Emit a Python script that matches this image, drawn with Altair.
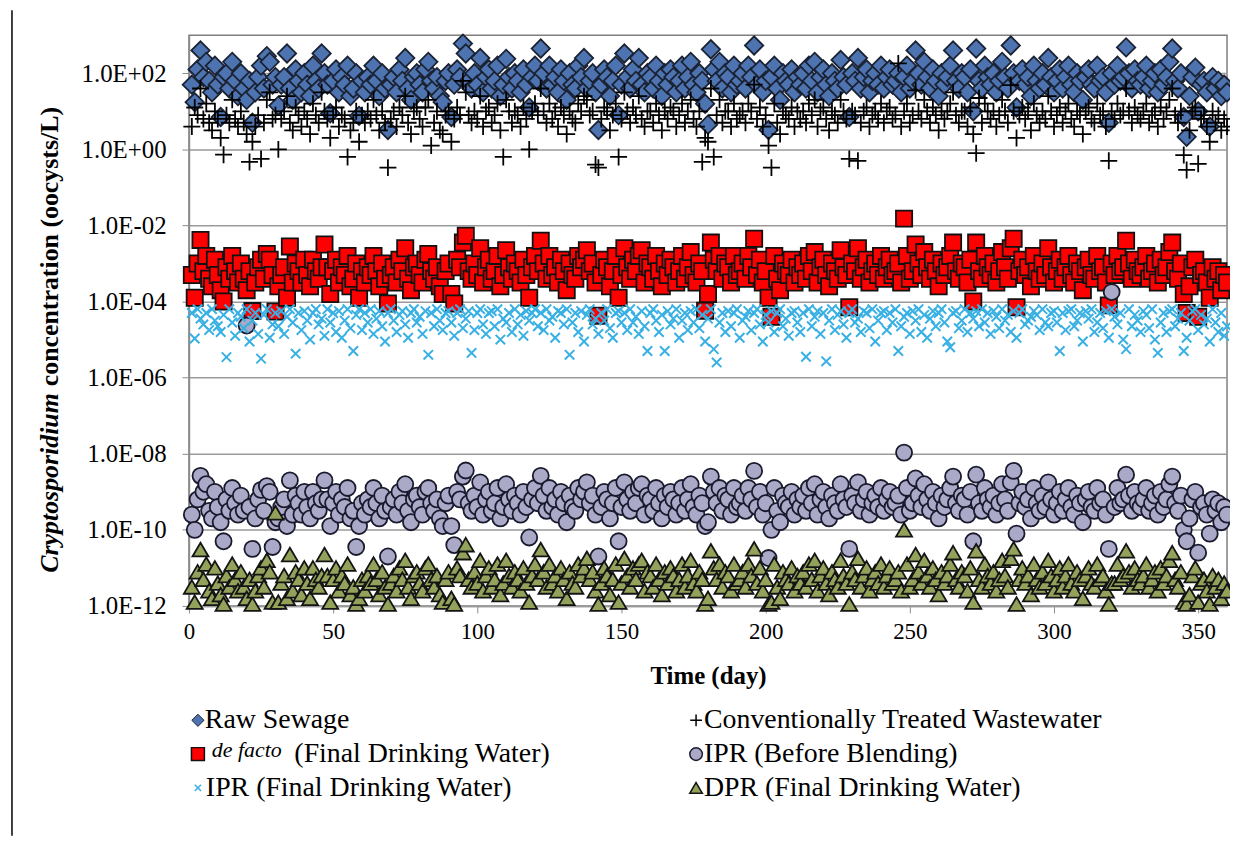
import altair as alt
import pandas as pd

# log10 concentrations (oocysts/L), one value per day starting at day 1
raw_sewage = [
    1.7, 1.24, 2.1, 2.6, 1.9, 2.3, 1.8, 1.5, 2.2, 1.7, 0.85, 1.9, 2.0, 1.6, 2.3, 1.8, 1.4, 2.0, 1.6, 1.3, 1.8, 0.7, 1.5, 1.9, 2.2, 1.6, 2.45, 2.3, 1.7, 1.9,
    1.15, 1.7, 1.9, 2.52, 1.6, 1.3, 2.1, 1.8, 1.5, 2.0, 1.7, 1.4, 2.2, 1.8, 1.6, 2.52, 2.0, 1.7, 0.95, 1.8, 2.1, 1.5, 1.9, 1.7, 2.2, 1.4, 1.6, 2.0, 0.88, 1.8,
    1.5, 1.9, 1.7, 2.2, 1.8, 1.4, 2.0, 1.6, 0.51, 1.7, 1.9, 1.5, 2.1, 1.8, 2.4, 1.6, 1.3, 1.9, 2.0, 1.7, 1.5, 2.1, 2.3, 1.8, 1.6, 1.9, 1.4, 1.24, 1.8, 2.0,
    0.85, 1.7, 2.1, 1.9, 2.78, 2.52, 1.8, 1.6, 2.0, 1.7, 2.4, 1.5, 1.9, 2.1, 1.6, 1.8, 2.2, 1.4, 1.7, 2.38, 1.9, 1.6, 2.0, 1.8, 1.5, 2.1, 1.7, 1.1, 1.9, 2.2,
    1.8, 2.65, 2.0, 1.6, 2.2, 1.7, 1.9, 1.5, 2.1, 1.8, 1.3, 2.0, 1.7, 1.6, 2.2, 1.9, 2.4, 1.6, 1.8, 2.0, 1.5, 0.51, 1.7, 2.1, 1.9, 1.4, 1.8, 2.2, 0.9, 1.7,
    2.52, 1.9, 1.6, 2.1, 1.8, 2.4, 1.7, 1.5, 2.0, 1.9, 1.6, 2.2, 1.8, 1.4, 2.0, 1.7, 2.1, 1.9, 1.5, 1.8, 2.2, 1.6, 1.9, 2.3, 1.7, 1.5, 2.0, 1.8, 1.2, 0.65,
    2.63, 2.1, 1.8, 2.3, 1.6, 2.0, 1.9, 1.5, 2.2, 1.7, 1.8, 2.0, 1.6, 2.2, 1.9, 2.73, 1.7, 2.1, 1.5, 1.8, 0.51, 1.9, 2.2, 1.6, 1.3, 2.0, 1.8, 1.7, 2.1, 1.5,
    1.9, 1.7, 2.0, 1.6, 2.2, 1.8, 2.3, 1.5, 1.9, 2.1, 1.7, 1.4, 2.0, 1.8, 1.6, 2.35, 1.9, 1.7, 0.85, 2.0, 1.8, 2.4, 1.6, 1.9, 2.1, 1.5, 1.8, 2.0, 1.7, 2.2,
    1.6, 1.9, 2.1, 1.7, 1.8, 2.0, 1.5, 1.9, 2.2, 1.6, 1.8, 2.6, 2.0, 1.7, 2.3, 1.9, 1.6, 2.1, 1.8, 1.4, 2.0, 1.7, 1.9, 2.2, 2.6, 1.8, 1.6, 2.0, 1.9, 1.5,
    2.1, 1.0, 2.65, 1.8, 1.6, 2.2, 1.9, 1.7, 2.0, 1.5, 1.8, 2.3, 1.9, 1.6, 2.73, 2.0, 1.1, 1.8, 2.1, 1.7, 1.9, 1.4, 2.2, 1.8, 1.6, 2.0, 1.7, 2.4, 1.9, 1.5,
    1.8, 2.1, 1.6, 1.9, 2.2, 1.7, 1.5, 2.0, 1.8, 1.3, 1.9, 2.1, 1.7, 1.6, 2.2, 1.8, 1.9, 1.5, 0.7, 2.0, 1.7, 2.2, 1.8, 1.9, 2.68, 2.0, 1.6, 2.1, 1.8, 1.7,
    1.9, 2.2, 1.6, 1.8, 2.0, 1.5, 2.1, 1.7, 1.9, 2.3, 2.65, 1.8, 1.6, 2.0, 0.85, 0.33, 1.4, 1.9, 2.15, 1.0, 1.7, 1.8, 1.5, 0.6, 1.9, 1.6, 1.8, 1.4, 1.7, 1.5,
]

treated_wastewater = [
    0.6, 1.1, 0.9, 1.6, 0.8, 1.2, 0.7, 0.5, 1.0, 0.8, 0.3, -0.14, 0.9, 0.7, 1.3, 0.8, 0.6, 1.0, 0.7, 0.4, -0.33, 0.2, 0.6, 0.9, -0.25, 0.7, 1.3, 1.5, 0.8, 0.9,
    0.0, 0.8, 1.0, 1.4, 0.7, 0.5, 1.1, 0.9, 0.6, 1.0, 0.8, 0.4, 1.2, 0.9, 0.7, 1.5, 1.0, 0.8, 0.3, 0.9, 1.1, 0.6, 0.9, 0.8, -0.2, 0.5, 0.7, 1.0, 0.2, 0.9,
    0.7, 1.0, 0.8, 1.3, 0.9, 0.5, 1.0, 0.7, -0.48, 0.8, 1.0, 0.6, 1.1, 0.9, 1.4, 0.7, 0.4, 1.0, 1.1, 0.8, 0.6, 1.1, 1.3, 0.1, 0.7, 1.0, 0.5, 0.4, 0.9, 1.0,
    0.2, 0.8, 1.1, 0.9, 1.8, 1.5, 0.9, 0.7, 1.0, 0.8, 1.4, 0.6, 1.0, 1.1, 0.7, 0.9, 1.2, 0.5, -0.2, 1.3, 1.0, 0.7, 1.0, 0.9, 0.6, 1.1, 0.8, 0.0, 1.0, 1.2,
    0.9, 1.6, 1.0, 0.7, 1.2, 0.8, 1.0, 0.6, 1.1, 0.9, 0.4, 1.0, 0.8, 0.7, 1.2, 1.0, 1.4, 1.3, 0.9, 1.0, -0.4, -0.48, 0.8, 1.1, 1.0, 0.5, 0.9, 1.2, -0.2, 0.8,
    1.5, 1.0, 0.7, 1.1, 0.9, 1.4, 0.8, 0.6, 1.0, 1.0, 0.7, 1.2, 0.9, 0.5, 1.0, 0.8, 1.1, 1.0, 0.6, 0.9, 1.2, 0.7, 1.0, 1.3, 0.8, 0.6, 1.0, -0.33, 0.3, 0.2,
    1.6, -0.2, 0.9, 1.3, 0.7, 1.0, 1.0, 0.6, 1.2, 0.8, 0.9, 1.0, 0.7, 1.2, 1.0, 1.7, 0.8, 1.1, 0.6, 0.9, 0.1, -0.48, 1.2, 0.7, 0.4, 1.0, 0.9, 0.8, 1.1, 0.6,
    1.0, 0.8, 1.0, 0.7, 1.2, 0.9, 1.3, 0.6, 1.0, 1.1, 0.8, 0.5, 1.0, 0.9, 0.7, 1.3, 1.0, 0.8, -0.25, 1.0, 0.9, -0.3, 0.7, 1.0, 1.1, 0.6, 0.9, 1.0, 0.8, 1.2,
    0.7, 1.0, 1.1, 0.8, 0.9, 2.26, 0.6, 1.0, 1.2, 0.7, 0.9, 1.55, 1.0, 0.8, 1.3, 1.0, 0.7, 1.1, 0.9, 0.5, 1.0, 0.8, 1.0, 1.2, 1.5, 0.9, 0.7, 1.0, 1.0, 0.6,
    1.1, 0.4, -0.1, 1.35, 0.7, 1.2, 1.0, 0.8, 1.0, 0.6, 0.9, 1.3, 1.0, 0.7, 1.69, 1.0, 0.3, 0.9, 1.1, 0.8, 1.0, 0.5, 1.2, 0.9, 0.7, 1.0, 0.8, 1.4, 1.0, 0.6,
    0.9, 1.1, 0.7, 1.0, 1.2, 0.8, 0.6, 1.0, 0.9, 0.4, 1.0, 1.1, 0.8, 0.7, 1.2, 0.9, 1.0, 0.6, -0.3, 1.0, 0.8, 1.2, 0.9, 1.0, 1.6, 1.0, 0.7, 1.1, 0.9, 0.8,
    1.0, 1.2, 0.7, 0.9, 1.0, 0.6, 1.1, 0.8, 1.0, 1.3, 1.6, 0.9, 0.7, 1.0, -0.15, -0.54, 0.5, 1.0, 1.1, -0.38, 0.8, 0.9, 0.6, 0.2, 1.0, 0.7, 0.9, 0.5, 0.8, 0.6,
]

de_facto_final = [
    -3.3, -3.9, -3.0, -2.38, -3.2, -2.8, -3.4, -3.6, -2.9, -3.3, -3.7, -4.0, -3.1, -3.4, -2.8, -3.2, -3.5, -3.0, -3.4, -3.7, -3.2, -4.25, -3.5, -3.1, -2.9, -3.4, -2.75, -2.9, -3.3, -4.26,
    -3.6, -3.3, -3.1, -3.9, -2.55, -3.5, -3.0, -3.2, -3.5, -2.9, -3.3, -3.6, -2.9, -3.2, -3.4, -3.1, -2.5, -3.1, -3.8, -3.2, -2.9, -3.5, -3.1, -3.3, -2.8, -3.6, -3.4, -3.0, -3.9, -3.2,
    -3.5, -3.1, -3.3, -2.8, -3.2, -3.6, -3.0, -3.4, -4.05, -3.3, -3.1, -3.5, -2.9, -3.2, -2.6, -3.4, -3.7, -3.1, -3.0, -3.3, -3.5, -2.9, -2.75, -3.2, -3.4, -3.1, -3.6, -3.8, -3.2, -3.0,
    -3.8, -4.05, -2.9, -3.1, -2.45, -2.27, -3.2, -3.4, -3.0, -3.3, -2.6, -3.5, -3.1, -2.9, -3.4, -3.2, -2.8, -3.6, -3.3, -2.65, -3.1, -3.4, -3.0, -3.2, -3.5, -2.9, -3.3, -3.9, -3.1, -2.8,
    -3.2, -2.4, -3.0, -3.4, -2.8, -3.3, -3.1, -3.5, -2.9, -3.2, -3.7, -3.0, -3.3, -3.4, -2.8, -3.1, -2.9, -2.65, -3.2, -3.0, -3.5, -4.37, -3.3, -2.9, -3.1, -3.6, -3.2, -2.8, -3.9, -3.3,
    -2.6, -3.1, -3.4, -2.9, -3.2, -2.8, -2.65, -3.5, -3.0, -3.1, -3.4, -2.8, -3.2, -3.6, -3.0, -3.3, -2.9, -3.1, -3.5, -3.2, -2.8, -3.4, -3.1, -2.7, -3.3, -3.5, -3.0, -3.2, -4.24, -3.8,
    -2.45, -2.9, -3.2, -2.8, -3.4, -3.0, -3.1, -3.5, -2.8, -3.3, -3.2, -3.0, -3.4, -2.8, -3.1, -2.35, -3.3, -2.9, -3.5, -3.2, -3.9, -4.4, -2.8, -3.4, -3.7, -3.0, -3.2, -3.3, -2.9, -3.5,
    -3.1, -3.3, -3.0, -3.4, -2.8, -3.2, -2.7, -3.5, -3.1, -2.9, -3.3, -3.6, -3.0, -3.2, -3.4, -2.65, -3.1, -3.3, -4.15, -3.0, -3.2, -2.6, -3.4, -3.1, -2.9, -3.5, -3.2, -3.0, -3.3, -2.8,
    -3.4, -3.1, -2.9, -3.3, -3.2, -3.0, -3.5, -1.82, -2.8, -3.4, -3.2, -2.5, -3.0, -3.3, -2.7, -3.1, -3.4, -2.9, -3.2, -3.6, -3.0, -3.3, -3.1, -2.8, -2.45, -3.2, -3.4, -3.0, -3.1, -3.5,
    -2.9, -4.0, -2.45, -3.2, -3.4, -2.8, -3.1, -3.3, -3.0, -3.5, -3.2, -2.7, -3.1, -3.4, -2.6, -2.35, -4.15, -3.2, -2.9, -3.3, -3.1, -3.6, -2.8, -3.2, -3.4, -3.0, -3.3, -2.6, -3.1, -3.5,
    -3.2, -2.9, -3.4, -3.1, -2.8, -3.3, -3.5, -3.0, -3.2, -3.7, -3.1, -2.9, -3.3, -3.4, -2.8, -3.2, -3.1, -3.5, -4.1, -3.0, -3.3, -2.8, -3.2, -3.1, -2.4, -3.0, -3.4, -2.9, -3.2, -3.3,
    -3.1, -2.8, -3.4, -3.2, -3.0, -3.5, -2.9, -3.3, -3.1, -2.7, -2.45, -3.2, -3.4, -3.0, -3.8, -4.3, -3.6, -3.1, -2.9, -4.4, -3.3, -3.2, -3.5, -3.9, -3.1, -3.4, -3.2, -3.7, -3.3, -3.5,
]

ipr_before_blending = [
    -9.6, -10.0, -9.2, -8.58, -9.0, -8.8, -9.5, -9.7, -9.0, -9.4, -9.8, -10.3, -9.2, -9.5, -8.9, -9.3, -9.6, -9.1, -9.5, -4.63, -9.4, -10.5, -9.7, -9.2, -8.95, -9.5, -8.85, -9.0, -10.45, -9.8,
    -9.7, -9.4, -9.2, -9.9, -8.7, -9.6, -9.1, -9.3, -9.6, -9.0, -9.4, -9.7, -9.0, -9.3, -9.5, -9.2, -8.7, -9.2, -9.9, -9.3, -9.0, -9.6, -9.2, -9.4, -8.9, -9.7, -9.5, -10.45, -9.9, -9.3,
    -9.6, -9.2, -9.4, -8.9, -9.3, -9.7, -9.1, -9.5, -10.7, -9.4, -9.2, -9.6, -9.0, -9.3, -8.8, -9.5, -9.8, -9.2, -9.1, -9.4, -9.6, -9.0, -8.9, -9.3, -9.5, -9.2, -9.7, -9.9, -9.3, -9.1,
    -9.9, -10.4, -9.0, -9.2, -8.6, -8.44, -9.3, -9.5, -9.1, -9.4, -8.75, -9.6, -9.2, -9.0, -9.5, -9.3, -8.9, -9.7, -9.4, -8.8, -9.2, -9.5, -9.1, -9.3, -9.6, -9.0, -9.4, -10.2, -9.2, -8.9,
    -9.3, -8.58, -9.1, -9.5, -8.9, -9.4, -9.2, -9.6, -9.0, -9.3, -9.8, -9.1, -9.4, -9.5, -8.9, -9.2, -9.0, -8.75, -9.3, -9.1, -9.6, -10.7, -9.4, -9.0, -9.2, -9.7, -9.3, -8.9, -10.3, -9.4,
    -8.75, -9.2, -9.5, -9.0, -9.3, -8.9, -8.8, -9.6, -9.1, -9.2, -9.5, -8.9, -9.3, -9.7, -9.1, -9.4, -9.0, -9.2, -9.6, -9.3, -8.9, -9.5, -9.2, -8.8, -9.4, -9.6, -9.1, -9.3, -9.9, -9.8,
    -8.6, -9.0, -9.3, -8.9, -9.5, -9.1, -9.2, -9.6, -8.9, -9.4, -9.3, -9.1, -9.5, -8.9, -9.2, -8.45, -9.4, -9.0, -9.6, -9.3, -10.74, -10.0, -8.9, -9.5, -9.8, -9.1, -9.3, -9.4, -9.0, -9.6,
    -9.2, -9.4, -9.1, -9.5, -8.9, -9.3, -8.8, -9.6, -9.2, -9.0, -9.4, -9.7, -9.1, -9.3, -9.5, -8.8, -9.2, -9.4, -10.5, -9.1, -9.3, -8.75, -9.5, -9.2, -9.0, -9.6, -9.3, -9.1, -9.4, -8.9,
    -9.5, -9.2, -9.0, -9.4, -9.3, -9.1, -9.6, -7.97, -8.9, -9.5, -9.3, -8.65, -9.1, -9.4, -8.8, -9.2, -9.5, -9.0, -9.3, -9.7, -9.1, -9.4, -9.2, -8.9, -8.6, -9.3, -9.5, -9.1, -9.2, -9.6,
    -9.0, -10.3, -8.55, -9.3, -9.5, -8.9, -9.2, -9.4, -9.1, -9.6, -9.3, -8.8, -9.2, -9.5, -8.75, -8.45, -10.1, -9.3, -9.0, -9.4, -9.2, -9.7, -8.9, -9.3, -9.5, -9.1, -9.4, -8.75, -9.2, -9.6,
    -9.3, -9.0, -9.5, -9.2, -8.9, -9.4, -9.6, -9.1, -9.3, -9.8, -9.2, -9.0, -9.4, -9.5, -8.9, -9.3, -9.2, -9.6, -10.5, -3.75, -9.4, -8.9, -9.3, -9.2, -8.55, -9.1, -9.5, -9.0, -9.3, -9.4,
    -9.2, -8.9, -9.5, -9.3, -9.1, -9.6, -9.0, -9.4, -9.2, -8.8, -8.6, -9.3, -9.5, -9.1, -10.0, -10.3, -9.7, -9.2, -9.0, -10.6, -9.4, -9.3, -9.6, -10.1, -9.2, -9.5, -9.3, -9.8, -9.4, -9.6,
]

ipr_final = [
    -4.3, -4.97, -4.2, -4.45, -4.6, -4.3, -4.75, -4.2, -4.5, -4.65, -4.8, -4.35, -5.46, -4.2, -4.55, -4.9, -4.3, -4.4, -4.7, -4.2, -5.05, -4.5, -4.3, -4.85, -5.5, -4.35, -4.2, -4.95, -4.6, -4.3,
    -4.65, -4.25, -4.85, -4.4, -4.2, -4.55, -5.37, -4.3, -4.75, -4.25, -4.5, -5.0, -4.3, -4.2, -4.6, -4.45, -4.9, -4.2, -4.55, -4.3, -4.8, -4.25, -4.95, -4.5, -4.2, -4.7, -5.3, -4.35, -4.2, -4.75,
    -4.3, -4.55, -4.2, -4.85, -4.45, -4.25, -4.65, -5.05, -4.3, -4.2, -4.5, -4.8, -4.35, -4.25, -4.6, -4.95, -4.3, -4.2, -4.55, -4.4, -4.85, -4.25, -5.4, -4.3, -4.65, -4.2, -4.5, -4.75, -4.3, -4.25,
    -4.55, -4.9, -4.3, -4.2, -4.7, -4.45, -4.25, -5.35, -4.75, -4.3, -4.2, -4.6, -4.85, -4.3, -4.25, -4.65, -4.2, -5.0, -4.45, -4.55, -4.3, -4.8, -4.2, -4.6, -4.35, -4.9, -4.25, -4.5, -4.3, -4.2,
    -4.65, -4.3, -4.75, -4.2, -4.5, -4.4, -4.95, -4.25, -4.3, -4.6, -4.2, -5.4, -4.55, -4.3, -4.8, -4.25, -5.05, -4.35, -4.2, -4.6, -4.45, -4.85, -4.3, -4.5, -4.2, -4.7, -4.95, -4.3, -4.25, -4.55,
    -4.3, -4.75, -4.2, -4.55, -4.4, -4.85, -4.25, -4.65, -5.3, -4.3, -4.2, -4.5, -4.8, -4.35, -5.3, -4.25, -4.6, -4.45, -4.2, -4.95, -4.5, -4.3, -4.75, -4.25, -4.55, -4.2, -4.7, -4.35, -5.05, -4.45,
    -4.2, -5.25, -5.6, -4.55, -4.3, -4.8, -4.25, -4.65, -4.3, -4.2, -4.95, -4.5, -4.4, -4.25, -4.75, -4.3, -4.2, -4.6, -5.05, -4.35, -4.55, -4.25, -4.8, -4.3, -4.2, -4.65, -4.45, -4.9, -4.3, -4.25,
    -4.55, -4.8, -4.3, -5.45, -4.2, -4.65, -4.4, -4.25, -4.85, -4.3, -5.57, -4.5, -4.2, -4.75, -4.35, -4.25, -4.6, -4.95, -4.3, -4.2, -4.55, -4.45, -4.8, -4.25, -4.3, -4.7, -4.2, -5.05, -4.5, -4.3,
    -4.25, -4.75, -4.3, -4.55, -4.2, -5.3, -4.65, -4.4, -4.3, -4.85, -4.25, -4.5, -4.2, -4.8, -4.35, -4.95, -4.45, -4.25, -4.65, -4.3, -4.2, -4.55, -5.05, -5.2, -4.3, -4.25, -4.7, -4.5, -4.2, -4.8,
    -4.3, -4.45, -4.25, -4.65, -4.2, -4.55, -4.3, -4.85, -4.25, -4.4, -4.7, -4.2, -4.5, -4.35, -4.8, -4.25, -4.95, -4.3, -4.2, -4.6, -4.5, -4.4, -4.25, -4.35, -4.75, -4.2, -4.55, -4.65, -4.3, -4.25,
    -4.55, -5.3, -4.3, -4.75, -4.25, -4.2, -4.65, -4.5, -4.3, -5.05, -4.25, -4.45, -4.2, -4.8, -4.55, -4.3, -4.7, -4.25, -4.95, -4.2, -4.4, -4.6, -4.3, -5.0, -5.25, -4.2, -4.65, -4.35, -4.5, -4.8,
    -4.25, -4.35, -4.7, -4.2, -5.0, -5.35, -4.55, -4.3, -4.8, -4.25, -4.2, -4.65, -4.45, -4.3, -5.3, -4.95, -4.5, -4.25, -4.2, -4.75, -4.35, -4.6, -4.45, -5.05, -4.2, -4.55, -4.8, -4.3, -4.9, -4.65,
]

dpr_final = [
    -11.5, -11.9, -11.1, -10.52, -11.3, -10.9, -11.6, -11.8, -11.0, -11.4, -11.7, -11.95, -11.2, -11.5, -10.9, -11.3, -11.6, -11.1, -11.5, -11.8, -11.3, -11.95, -11.6, -11.2, -11.0, -11.5, -10.8, -11.1, -11.9, -9.55,
    -11.9, -11.4, -11.2, -11.8, -10.65, -11.6, -11.1, -11.3, -11.7, -11.0, -11.4, -11.8, -11.0, -11.3, -11.5, -11.2, -10.65, -11.2, -11.9, -11.3, -11.0, -11.6, -11.2, -11.4, -10.9, -11.7, -11.5, -11.95, -11.8, -11.3,
    -11.6, -11.2, -11.4, -10.9, -11.3, -11.7, -11.1, -11.5, -11.95, -11.4, -11.2, -11.6, -11.0, -11.3, -10.8, -11.5, -11.8, -11.2, -11.1, -11.4, -11.6, -11.0, -10.9, -11.3, -11.5, -11.2, -11.7, -11.9, -11.3, -11.1,
    -11.8, -11.95, -11.0, -11.2, -10.6, -10.39, -11.3, -11.5, -11.1, -11.4, -10.8, -11.6, -11.2, -11.0, -11.5, -11.3, -10.9, -11.7, -11.4, -10.8, -11.2, -11.5, -11.1, -11.3, -11.6, -11.0, -11.4, -11.9, -11.2, -10.9,
    -11.3, -10.52, -11.1, -11.5, -10.9, -11.4, -11.2, -11.6, -11.0, -11.3, -11.8, -11.1, -11.4, -11.5, -10.9, -11.2, -11.0, -10.75, -11.3, -11.1, -11.6, -11.95, -11.4, -11.0, -11.2, -11.7, -11.3, -10.9, -11.9, -11.4,
    -10.75, -11.2, -11.5, -11.0, -11.3, -10.9, -10.8, -11.6, -11.1, -11.2, -11.5, -10.9, -11.3, -11.7, -11.1, -11.4, -11.0, -11.2, -11.6, -11.3, -10.9, -11.5, -11.2, -10.8, -11.4, -11.6, -11.1, -11.3, -11.95, -11.8,
    -10.55, -11.0, -11.3, -10.9, -11.5, -11.1, -11.2, -11.6, -10.9, -11.4, -11.3, -11.1, -11.5, -10.9, -11.2, -10.5, -11.4, -11.0, -11.6, -11.3, -11.95, -11.9, -10.9, -11.5, -11.8, -11.1, -11.3, -11.4, -11.0, -11.6,
    -11.2, -11.4, -11.1, -11.5, -10.9, -11.3, -10.8, -11.6, -11.2, -11.0, -11.4, -11.7, -11.1, -11.3, -11.5, -10.8, -11.2, -11.4, -11.95, -11.1, -11.3, -10.75, -11.5, -11.2, -11.0, -11.6, -11.3, -11.1, -11.4, -10.9,
    -11.5, -11.2, -11.0, -11.4, -11.3, -11.1, -11.6, -10.0, -10.9, -11.5, -11.3, -10.65, -11.1, -11.4, -10.8, -11.2, -11.5, -11.0, -11.3, -11.7, -11.1, -11.4, -11.2, -10.9, -10.6, -11.3, -11.5, -11.1, -11.2, -11.6,
    -11.0, -11.9, -10.55, -11.3, -11.5, -10.9, -11.2, -11.4, -11.1, -11.6, -11.3, -10.8, -11.2, -11.5, -10.75, -10.5, -11.95, -11.3, -11.0, -11.4, -11.2, -11.7, -10.9, -11.3, -11.5, -11.1, -11.4, -10.8, -11.2, -11.6,
    -11.3, -11.0, -11.5, -11.2, -10.9, -11.4, -11.6, -11.1, -11.3, -11.8, -11.2, -11.0, -11.4, -11.5, -10.9, -11.3, -11.2, -11.6, -11.95, -11.4, -11.4, -10.9, -11.3, -11.2, -10.55, -11.1, -11.5, -11.0, -11.3, -11.4,
    -11.2, -10.9, -11.5, -11.3, -11.1, -11.6, -11.0, -11.4, -11.2, -10.8, -10.6, -11.3, -11.5, -11.1, -11.9, -11.95, -11.7, -11.2, -11.0, -11.9, -11.4, -11.3, -11.6, -11.95, -11.2, -11.5, -11.3, -11.8, -11.4, -11.6,
]

x_ticks = [0, 50, 100, 150, 200, 250, 300, 350]
y_ticks = [1e2, 1e0, 1e-2, 1e-4, 1e-6, 1e-8, 1e-10, 1e-12]

SERIF = "Liberation Serif"

def frame(vals):
    return pd.DataFrame({"day": list(range(1, len(vals) + 1)),
                         "conc": [10.0 ** v for v in vals]})

x_enc = alt.X("day:Q",
              scale=alt.Scale(domain=[0, 360], nice=False, zero=False),
              axis=alt.Axis(values=x_ticks, title="Time (day)", grid=False,
                            titleFont=SERIF, titleFontSize=25, titleFontWeight="bold",
                            titleColor="black", titlePadding=20,
                            labelFont=SERIF, labelFontSize=23, labelColor="black",
                            labelPadding=8, labelFlush=False,
                            tickSize=7, tickColor="#8C8C8C", domainColor="#9A9A9A",
                            domainWidth=1.5))
y_enc = alt.Y("conc:Q",
              scale=alt.Scale(type="log", domain=[1e-12, 1e3], nice=False),
              axis=alt.Axis(values=y_ticks, title=None, grid=True,
                            gridColor="#9A9A9A", gridWidth=1.5,
                            labelExpr="'1.0E' + (round(log(datum.value)/LN10) >= 0 ? '+' : '-') + (abs(round(log(datum.value)/LN10)) < 10 ? '0' : '') + abs(round(log(datum.value)/LN10))",
                            labelFont=SERIF, labelFontSize=25, labelColor="black",
                            labelPadding=16, tickSize=7, tickColor="#8C8C8C",
                            domainColor="#8C8C8C", domainWidth=1.5))

PLUS = "M-1,0L1,0M0,-1L0,1"
XSHAPE = "M-1,-1L1,1M-1,1L1,-1"
TRI = "M0,-0.85L1,0.85L-1,0.85Z"

def layer(vals, **mark):
    return alt.Chart(frame(vals)).mark_point(**mark).encode(x=x_enc, y=y_enc)

l_raw = layer(raw_sewage, shape="diamond", filled=True, fill="#4D74B0", stroke="#1B2233",
              strokeWidth=1.8, size=340, opacity=1)
l_treat = layer(treated_wastewater, shape=PLUS, filled=False, stroke="black",
                strokeWidth=1.8, size=290, opacity=1)
l_defacto = layer(de_facto_final, shape="square", filled=True, fill="#FF0000", stroke="#111111",
                  strokeWidth=1.8, size=265, opacity=1)
l_before = layer(ipr_before_blending, shape="circle", filled=True, fill="#ABA9C8", stroke="#1A1A2E",
                 strokeWidth=1.8, size=260, opacity=1)
l_ipr = layer(ipr_final, shape=XSHAPE, filled=False, stroke="#38B0E3",
              strokeWidth=2, size=90, opacity=1)
l_dpr = layer(dpr_final, shape=TRI, filled=True, fill="#93A25A", stroke="#141414",
              strokeWidth=1.8, size=260, opacity=1)

one = alt.Data(values=[{}])

def txt(label, x, y, size=28, style="normal", weight="normal", angle=0, align="left"):
    return alt.Chart(one).mark_text(text=label, align=align, baseline="middle", font=SERIF,
                                    fontSize=size, fontStyle=style, fontWeight=weight,
                                    angle=angle, color="black").encode(
        x=alt.value(x), y=alt.value(y))

def sym(x, y, **mark):
    return alt.Chart(one).mark_point(opacity=1, **mark).encode(x=alt.value(x), y=alt.value(y))

# legend (pixel positions relative to the plot area)
row1, row2, row3 = 689, 723, 757
c1, c2 = 9, 510
legend = [
    sym(c1, row1, shape="diamond", filled=True, fill="#4D74B0", stroke="#1B2233", strokeWidth=1, size=150),
    txt("Raw Sewage", c1 + 7, row1),
    sym(c2, row1, shape=PLUS, filled=False, stroke="black", strokeWidth=1.5, size=140),
    txt("Conventionally Treated Wastewater", c2 + 8, row1),
    sym(c1, row2, shape="square", filled=True, fill="#FF0000", stroke="#111111", strokeWidth=1.5, size=170),
    txt("de facto", c1 + 14, row2 - 4, size=22, style="italic"),
    txt("(Final Drinking Water)", c1 + 97, row2),
    sym(c2, row2, shape="circle", filled=True, fill="#ABA9C8", stroke="#1A1A2E", strokeWidth=1.5, size=160),
    txt("IPR (Before Blending)", c2 + 8, row2),
    sym(c1, row3, shape=XSHAPE, filled=False, stroke="#38B0E3", strokeWidth=1.5, size=40),
    txt("IPR (Final Drinking Water)", c1 + 8, row3),
    sym(c2, row3, shape=TRI, filled=True, fill="#93A25A", stroke="#141414", strokeWidth=1.5, size=160),
    txt("DPR (Final Drinking Water)", c2 + 8, row3),
]

# y-axis title with italic genus name
ytitle = [
    txt("Cryptosporidium", -140, 360, size=26, style="italic", weight="bold", angle=270, align="right"),
    txt("concentration (oocysts/L)", -140, 353, size=26, weight="bold", angle=270, align="left"),
]

frame_line = alt.Chart(one).mark_rule(color="black", strokeWidth=1.5).encode(
    x=alt.value(-178), y=alt.value(-25), y2=alt.value(805))

chart = alt.layer(
    l_raw, l_treat, l_defacto, l_before, l_ipr, l_dpr, *legend, *ytitle, frame_line
).properties(
    width=1044, height=574,
    autosize=alt.AutoSizeParams(type="none"),
    padding={"left": 182, "top": 25, "right": 3, "bottom": 231},
    background="white",
).configure_view(
    stroke="#7F7F7F", strokeWidth=1.5
)

chart.save("out.html", embed_options={"renderer": "svg", "actions": False})
